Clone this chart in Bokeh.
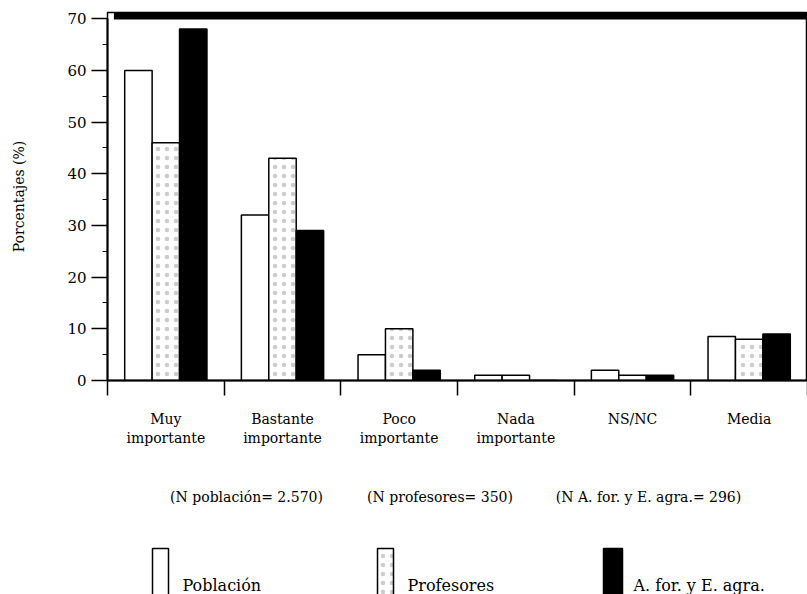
import numpy as np
from bokeh.plotting import figure
from bokeh.layouts import column
from bokeh.models import (Range1d, LinearAxis, FixedTicker, BoxAnnotation)
from bokeh.core.properties import value
from bokeh.embed import file_html
from bokeh.resources import INLINE

# ---------------- data ----------------
categories = ["Muy\nimportante", "Bastante\nimportante", "Poco\nimportante",
              "Nada\nimportante", "NS/NC", "Media"]
poblacion = [60, 32, 5, 1, 2, 8.5]
profesores = [46, 43, 10, 1, 1, 8]
aforagra = [68, 29, 2, 0, 1, 9]
series_names = ["Población", "Profesores", "A. for. y E. agra."]
footnotes = ["(N población= 2.570)", "(N profesores= 350)", "(N A. for. y E. agra.= 296)"]
y_ticks = [0, 10, 20, 30, 40, 50, 60, 70]
y_minor = [5, 15, 25, 35, 45, 55, 65]

FONT = "DejaVu Serif"

# ---------------- main chart ----------------
W = 807
H1 = 470
p = figure(width=W, height=H1, output_backend="svg", toolbar_location=None,
           x_range=Range1d(0, 6), y_range=Range1d(0, 71.2),
           x_axis_type=None, y_axis_type=None,
           min_border_left=107, min_border_right=0, min_border_top=12,
           min_border_bottom=90)
p.background_fill_color = "white"
p.border_fill_color = "white"
p.outline_line_color = "black"
p.outline_line_width = 1.5

centers = np.arange(len(categories)) + 0.5
bw = 0.235
offsets = [-0.235, 0.0, 0.235]

yaxis = LinearAxis(ticker=FixedTicker(ticks=y_ticks, minor_ticks=y_minor))
yaxis.bounds = (0, 70)
yaxis.axis_line_width = 2
yaxis.axis_line_color = "black"
yaxis.major_tick_out = 16
yaxis.major_tick_in = 0
yaxis.major_tick_line_width = 1.5
yaxis.minor_tick_out = 5
yaxis.minor_tick_in = 0
yaxis.major_label_standoff = 5
yaxis.major_label_text_font = FONT
yaxis.major_label_text_font_size = "15px"
yaxis.major_label_text_color = "black"
yaxis.axis_label = "Porcentajes (%)"
yaxis.axis_label_text_font = FONT
yaxis.axis_label_text_font_size = "14px"
yaxis.axis_label_text_font_style = "normal"
yaxis.axis_label_text_color = "black"
yaxis.axis_label_standoff = 37
p.add_layout(yaxis, "left")

xaxis = LinearAxis(ticker=FixedTicker(ticks=list(centers),
                                      minor_ticks=list(range(len(categories) + 1))))
xaxis.axis_line_width = 2
xaxis.axis_line_color = "black"
xaxis.major_tick_out = 0
xaxis.major_tick_in = 0
xaxis.minor_tick_out = 15
xaxis.minor_tick_in = 0
xaxis.minor_tick_line_width = 1.5
xaxis.major_label_overrides = {float(c): lab for c, lab in zip(centers, categories)}
xaxis.major_label_standoff = 15
xaxis.major_label_text_font = FONT
xaxis.major_label_text_font_size = "14px"
xaxis.major_label_text_color = "black"
p.add_layout(xaxis, "below")

p.xgrid.visible = False
p.ygrid.ticker = FixedTicker(ticks=y_ticks[1:-1])
p.ygrid.grid_line_color = "black"
p.ygrid.grid_line_dash = "8 5"
p.ygrid.grid_line_width = 1

# top thick bar
p.add_layout(BoxAnnotation(left=0.055, bottom=69.85, fill_color="black",
                           fill_alpha=1, line_color=None, level="overlay"))

HATCH = dict(hatch_pattern="dot", hatch_color="#555555", hatch_alpha=0.3,
             hatch_scale=9, hatch_weight=0.6)

# bars
p.vbar(x=centers + offsets[0], top=poblacion, width=bw, bottom=0,
       fill_color="white", line_color="black", line_width=1.5)
p.vbar(x=centers + offsets[1], top=profesores, width=bw, bottom=0,
       fill_color="white", line_color="black", line_width=1.5, **HATCH)
p.vbar(x=centers + offsets[2], top=aforagra, width=bw, bottom=0,
       fill_color="black", line_color="black", line_width=1.5)

# ---------------- footnotes + legend (page-pixel coordinates) ----------------
H2 = 124
q = figure(width=W, height=H2, output_backend="svg", toolbar_location=None,
           x_range=Range1d(107, W), y_range=Range1d(H1 + H2, H1),
           x_axis_type=None, y_axis_type=None,
           min_border_left=107, min_border_right=0, min_border_top=0,
           min_border_bottom=0)
q.outline_line_color = None
q.xgrid.visible = False
q.ygrid.visible = False

foot_x = [246, 439.5, 648]
q.text(x=foot_x, y=[496] * 3, text=footnotes, text_font=value(FONT),
       text_font_size="14px", text_align="center", text_baseline="alphabetic",
       text_color="black")

leg_left = [152, 377, 603]
leg_w = [16, 16, 19]
leg_fill = ["white", "white", "black"]
for i in range(3):
    kw = HATCH if i == 1 else {}
    q.quad(left=[leg_left[i]], right=[leg_left[i] + leg_w[i]], top=[548], bottom=[620],
           fill_color=leg_fill[i], line_color="black", line_width=1.5, **kw)
q.text(x=[l + 30 for l in leg_left], y=[585] * 3, text=series_names,
       text_font=value(FONT), text_font_size="16px", text_align="left",
       text_baseline="alphabetic", text_color="black")

layout = column(p, q, spacing=0)
open("out.html", "w").write(file_html(layout, INLINE))
